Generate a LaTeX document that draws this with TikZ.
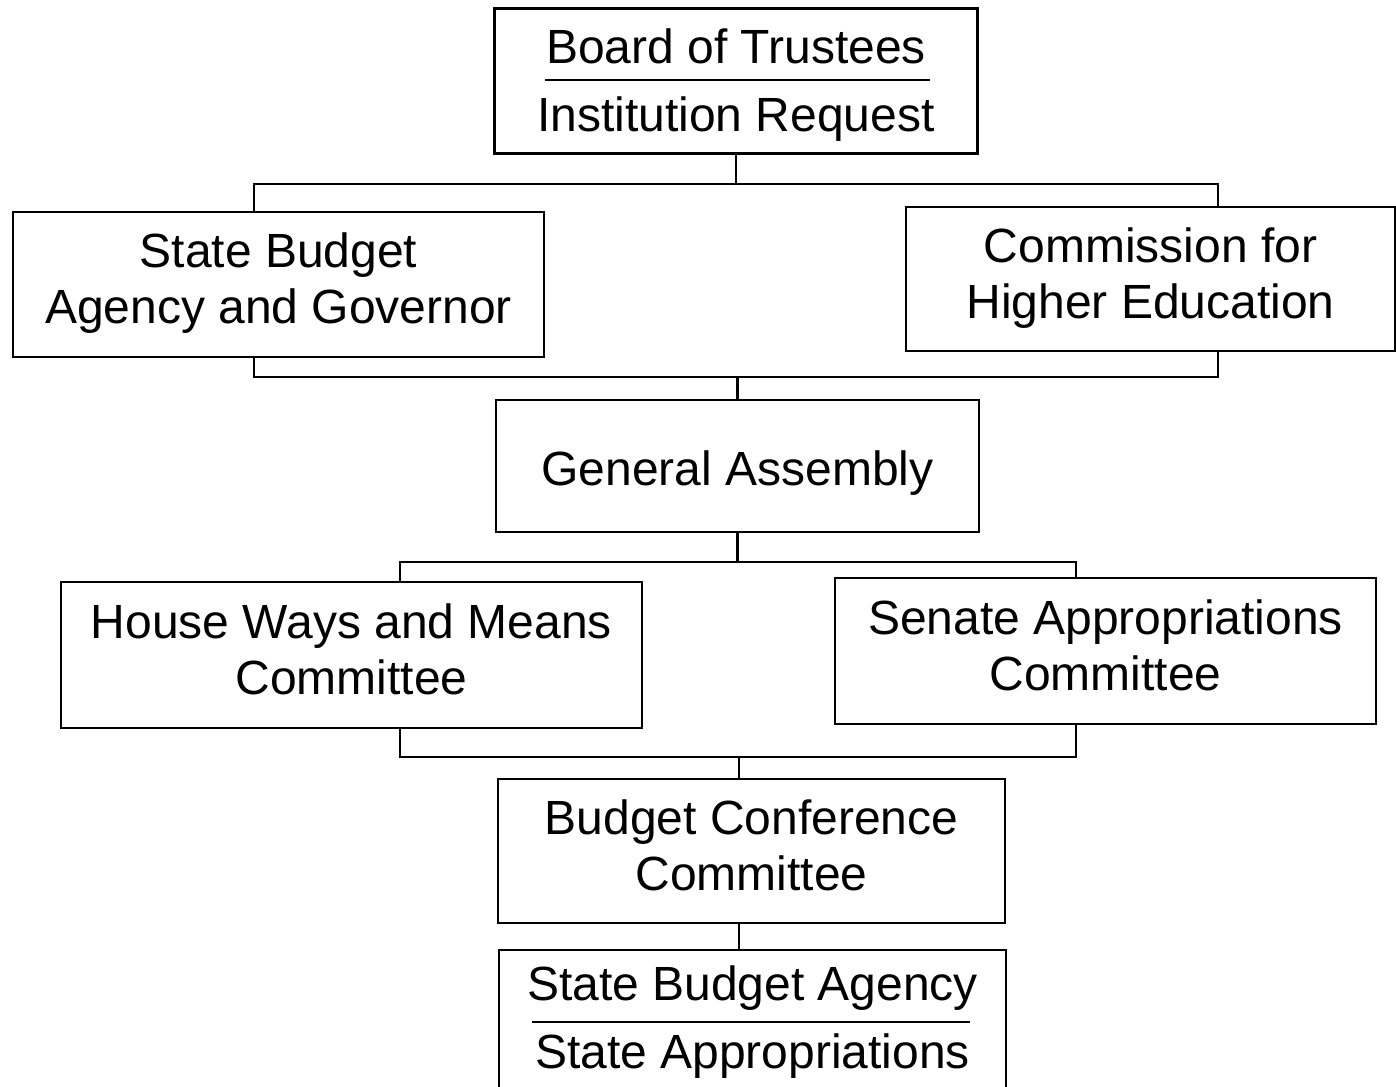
\documentclass[tikz,border=0pt]{standalone}
\usepackage{fontspec}
\setmainfont{Liberation Sans}
\tikzset{
	basebox/.style={draw, line width=2.8pt, inner sep=0pt, align=center, font=\fontsize{48}{56}\selectfont, text depth=0pt},
	box/.style={basebox, text height=78pt},
	splitbox/.style={basebox, text height=100pt},
	link/.style={line width=2.4pt},
	divider/.style={line width=2.2pt},
}
\begin{document}
\begin{tikzpicture}[x=1pt, y=-1pt]
	%%%%% START %%%%%
	\useasboundingbox (0,0) rectangle (1396,1086);
	
	% boxes
	\node[splitbox, minimum width=483pt, minimum height=145pt, text height=102pt] (trustees) at (736,81) {Board of Trustees\\[12pt]Institution Request};
	\node[box, minimum width=531pt, minimum height=145pt] (governor) at (278.5,284.5) {State Budget\\Agency and Governor};
	\node[box, minimum width=489pt, minimum height=144pt] (che) at (1150.5,279) {Commission for\\Higher Education};
	\node[box, minimum width=483pt, minimum height=132pt, text height=38pt] (assembly) at (737.5,466) {General Assembly};
	\node[box, minimum width=581pt, minimum height=146pt] (house) at (351.5,655) {House Ways and Means\\Committee};
	\node[box, minimum width=541pt, minimum height=146pt] (senate) at (1105.5,651) {Senate Appropriations\\Committee};
	\node[box, minimum width=507pt, minimum height=144pt] (conference) at (751.5,851) {Budget Conference\\Committee};
	\node[splitbox, minimum width=507pt, minimum height=144pt, text height=92pt] (agency) at (752.5,1022) {State Budget Agency\\[12pt]State Appropriations};
	
	% rules between the two lines
	\draw[divider] (545,80) -- (930,80);
	\draw[divider] (532,1022) -- (970,1022);
	
	% fork points
	\coordinate (a1) at (254,184);
	\coordinate (a2) at (1218,184);
	\coordinate (b1) at (254,377);
	\coordinate (b2) at (1218,377);
	\coordinate (c1) at (400,562);
	\coordinate (c2) at (1076,562);
	\coordinate (d1) at (400,757);
	\coordinate (d2) at (1076,757);
	\coordinate (d0) at (739,757);
	
	% connectors
	\draw[link] (trustees.south) -- (trustees.south |- a1);
	\draw[link] (governor.north -| a1) -- (a1) -- (a2) -- (che.north -| a2);
	\draw[link] (governor.south -| b1) -- (b1) -- (b2) -- (che.south -| b2);
	\draw[link] (assembly.north) -- (assembly.north |- b1);
	\draw[link] (assembly.south) -- (assembly.south |- c1);
	\draw[link] (house.north -| c1) -- (c1) -- (c2) -- (senate.north -| c2);
	\draw[link] (house.south -| d1) -- (d1) -- (d2) -- (senate.south -| d2);
	\draw[link] (d0) -- (conference.north -| d0);
	\draw[link] (conference.south -| d0) -- (agency.north -| d0);
	
	%%%%% END %%%%%
\end{tikzpicture}
\end{document}
